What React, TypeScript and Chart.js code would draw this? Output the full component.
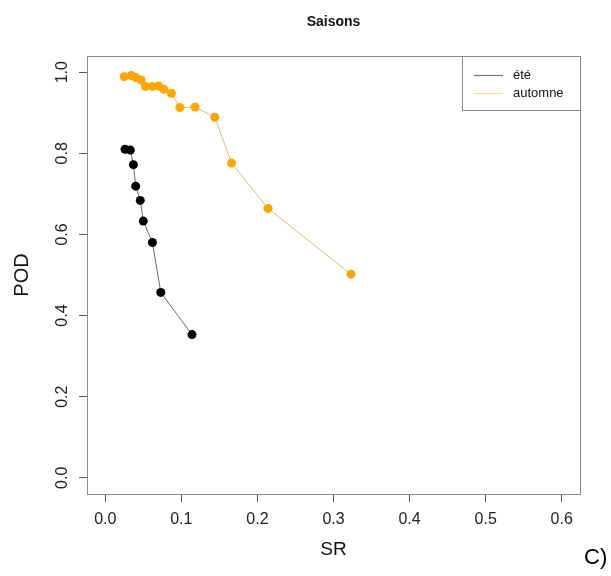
import React, { useEffect, useRef } from "react";
import { Chart, registerables } from "chart.js";

Chart.register(...registerables);

const chartTitle = "Saisons";
const xAxisTitle = "SR";
const yAxisTitle = "POD";
const cornerLabel = "C)";
const seriesLabels = ["été", "automne"];

const eteSR = [0.026, 0.033, 0.037, 0.040, 0.046, 0.050, 0.062, 0.073, 0.114];
const etePOD = [0.810, 0.808, 0.772, 0.719, 0.684, 0.633, 0.580, 0.457, 0.353];

const automneSR = [0.025, 0.034, 0.040, 0.047, 0.053, 0.062, 0.070, 0.077, 0.087, 0.098, 0.118, 0.144, 0.166, 0.214, 0.323];
const automnePOD = [0.989, 0.992, 0.987, 0.981, 0.965, 0.965, 0.966, 0.958, 0.948, 0.913, 0.914, 0.889, 0.776, 0.664, 0.502];

const xTickValues = [0, 0.1, 0.2, 0.3, 0.4, 0.5, 0.6];
const xTickLabels = ["0.0", "0.1", "0.2", "0.3", "0.4", "0.5", "0.6"];
const yTickValues = [0, 0.2, 0.4, 0.6, 0.8, 1.0];
const yTickLabels = ["0.0", "0.2", "0.4", "0.6", "0.8", "1.0"];

const FONT = "'Liberation Sans', Arial, sans-serif";
const pointColors = ["#000000", "#FFA500"];
const lineColors = ["#6a6a6a", "#d9bf6a"];
const legendLineColors = ["#777777", "#eadf9c"];

const decorPlugin = {
  id: "decor",
  afterDraw(chart: any) {
    const { ctx, chartArea } = chart;
    const { left, right, top, bottom } = chartArea;
    ctx.save();
    // frame
    ctx.strokeStyle = "#8a8a8a";
    ctx.lineWidth = 1;
    ctx.strokeRect(Math.round(left) + 0.5, Math.round(top) + 0.5, Math.round(right - left), Math.round(bottom - top));
    // title
    ctx.fillStyle = "#111";
    ctx.font = `bold 14px ${FONT}`;
    ctx.textAlign = "center";
    ctx.textBaseline = "middle";
    ctx.fillText(chartTitle, (left + right) / 2, 22);
    // legend
    const lw = 118;
    const lh = 54;
    const lx = Math.round(right) - lw;
    const ly = Math.round(top);
    ctx.fillStyle = "#fff";
    ctx.fillRect(lx, ly, lw, lh);
    ctx.strokeStyle = "#8a8a8a";
    ctx.strokeRect(lx + 0.5, ly + 0.5, lw, lh);
    ctx.font = `13px ${FONT}`;
    ctx.textAlign = "left";
    ctx.textBaseline = "middle";
    chart.data.datasets.forEach((ds: any, i: number) => {
      const yy = ly + 19 + i * 18;
      ctx.strokeStyle = legendLineColors[i];
      ctx.lineWidth = 1.2;
      ctx.beginPath();
      ctx.moveTo(lx + 12, yy + 0.5);
      ctx.lineTo(lx + 41, yy + 0.5);
      ctx.stroke();
      ctx.fillStyle = "#111";
      ctx.fillText(ds.label, lx + 51, yy);
    });
    // corner label
    ctx.font = `22px ${FONT}`;
    ctx.fillStyle = "#000";
    ctx.textAlign = "left";
    ctx.textBaseline = "middle";
    ctx.fillText(cornerLabel, 584, 558);
    ctx.restore();
  },
};

export default function App() {
  const ref = useRef<HTMLCanvasElement>(null);
  useEffect(() => {
    document.body.style.margin = "0";
    const canvas = ref.current;
    if (!canvas) return;
    const chart = new Chart(canvas, {
      type: "scatter",
      data: {
        datasets: [
          {
            label: seriesLabels[0],
            data: eteSR.map((x, i) => ({ x, y: etePOD[i] })),
            showLine: true,
            borderColor: lineColors[0],
            borderWidth: 1,
            pointBackgroundColor: pointColors[0],
            pointBorderColor: pointColors[0],
            pointBorderWidth: 0,
            pointRadius: 4.5,
          },
          {
            label: seriesLabels[1],
            data: automneSR.map((x, i) => ({ x, y: automnePOD[i] })),
            showLine: true,
            borderColor: lineColors[1],
            borderWidth: 1,
            pointBackgroundColor: pointColors[1],
            pointBorderColor: pointColors[1],
            pointBorderWidth: 0,
            pointRadius: 4.5,
          },
        ],
      },
      options: {
        animation: false,
        responsive: false,
        devicePixelRatio: 1,
        layout: { padding: { top: 56, right: 31, left: 0, bottom: 0 } },
        plugins: {
          legend: { display: false },
          title: { display: false },
          tooltip: { enabled: false },
        },
        scales: {
          x: {
            type: "linear",
            min: -0.024,
            max: 0.624,
            afterBuildTicks: (s: any) => {
              s.ticks = xTickValues.map((v) => ({ value: v }));
            },
            afterFit: (s: any) => {
              s.height = 82;
            },
            ticks: {
              callback: (_v: any, i: number) => xTickLabels[i],
              font: { size: 16, family: FONT },
              color: "#222",
              padding: 8,
              maxRotation: 0,
              minRotation: 0,
            },
            grid: { drawOnChartArea: false, drawTicks: true, tickLength: 8, color: "#555" },
            border: { display: false },
            title: {
              display: true,
              text: xAxisTitle,
              font: { size: 19, family: FONT },
              color: "#111",
              padding: { top: 0, bottom: 15 },
            },
          },
          y: {
            type: "linear",
            min: -0.04,
            max: 1.04,
            afterBuildTicks: (s: any) => {
              s.ticks = yTickValues.map((v) => ({ value: v }));
            },
            afterFit: (s: any) => {
              s.width = 87;
            },
            ticks: {
              callback: (_v: any, i: number) => yTickLabels[i],
              font: { size: 16, family: FONT },
              color: "#222",
              padding: 5,
              minRotation: 90,
              maxRotation: 90,
              crossAlign: "center",
            },
            grid: { drawOnChartArea: false, drawTicks: true, tickLength: 8, color: "#555" },
            border: { display: false },
            title: {
              display: true,
              text: yAxisTitle,
              font: { size: 20, family: FONT },
              color: "#111",
              padding: { top: 10, bottom: 0 },
            },
          },
        },
      },
      plugins: [decorPlugin],
    } as any);
    return () => chart.destroy();
  }, []);
  return (
    <div style={{ width: 611, height: 576 }}>
      <canvas ref={ref} width={611} height={576} style={{ display: "block" }} />
    </div>
  );
}
